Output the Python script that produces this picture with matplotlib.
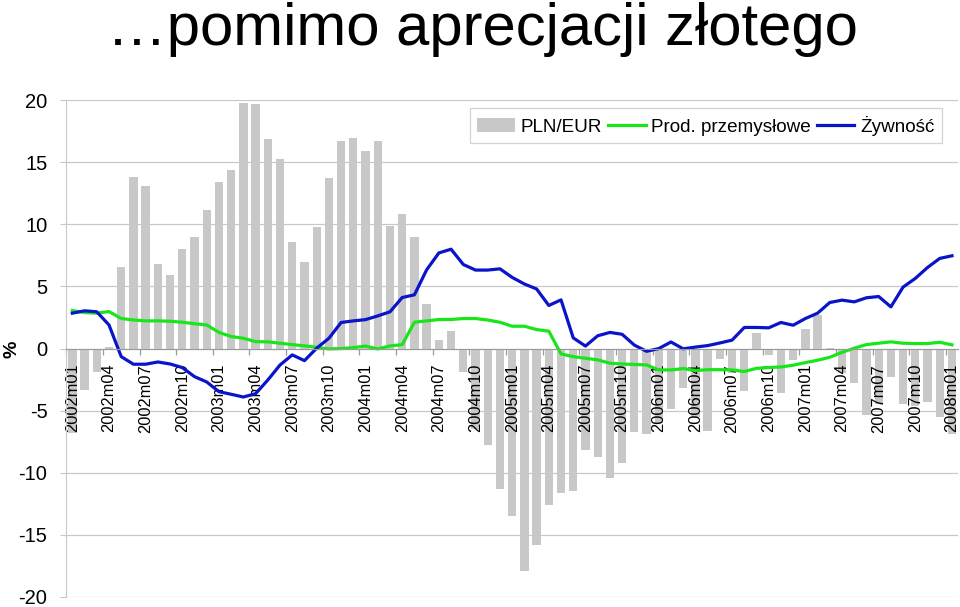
import numpy as np
import matplotlib
matplotlib.use("Agg")
import matplotlib.pyplot as plt
from matplotlib.ticker import FixedLocator

plt.rcParams['font.family'] = ['Liberation Sans', 'DejaVu Sans']
plt.rcParams['axes.unicode_minus'] = False

# monthly categories 2002m01 .. 2008m01
months = [f"{2002 + k // 12}m{k % 12 + 1:02d}" for k in range(73)]

# PLN/EUR, y/y %
pln_eur = [-6.8, -3.3, -1.9, 0.15, 6.6, 13.8, 13.1, 6.8, 5.9, 8.0, 8.95, 11.15,
           13.4, 14.4, 19.8, 19.7, 16.85, 15.3, 8.6, 7.0, 9.8, 13.7, 16.75, 16.95,
           15.9, 16.75, 9.9, 10.8, 8.95, 3.55, 0.7, 1.45, -1.9, -6.5, -7.8, -11.3,
           -13.5, -17.9, -15.8, -12.6, -11.6, -11.5, -8.2, -8.7, -10.4, -9.2, -6.75, -6.85,
           -6.0, -4.87, -3.17, -5.5, -6.6, -0.83, -2.0, -3.4, 1.25, -0.5, -3.6, -0.9,
           1.58, 2.72, 0.06, -2.0, -2.8, -5.35, -4.5, -2.3, -4.45, -4.6, -4.3, -5.5,
           -6.9]

# industrial goods prices
prod_przem = [3.06, 2.9, 2.85, 2.98, 2.42, 2.3, 2.23, 2.23, 2.2, 2.12, 2.0, 1.9,
              1.3, 0.97, 0.83, 0.56, 0.54, 0.43, 0.32, 0.22, 0.1, -0.03, 0.0, 0.08,
              0.2, -0.03, 0.21, 0.32, 2.12, 2.23, 2.34, 2.34, 2.42, 2.42, 2.3, 2.12,
              1.8, 1.8, 1.53, 1.4, -0.43, -0.65, -0.78, -0.91, -1.18, -1.24, -1.28, -1.32,
              -1.72, -1.72, -1.61, -1.77, -1.7, -1.7, -1.72, -1.85, -1.59, -1.53, -1.48, -1.34,
              -1.13, -0.94, -0.7, -0.3, 0.03, 0.32, 0.43, 0.54, 0.43, 0.4, 0.4, 0.51,
              0.3]

# food prices
zywnosc = [2.85, 3.04, 2.96, 1.9, -0.65, -1.26, -1.26, -1.08, -1.24, -1.53, -2.26, -2.69,
           -3.47, -3.68, -3.9, -3.63, -2.53, -1.32, -0.51, -0.97, 0.03, 0.83, 2.1, 2.23,
           2.33, 2.63, 2.96, 4.11, 4.33, 6.34, 7.7, 8.0, 6.77, 6.32, 6.32, 6.42,
           5.73, 5.2, 4.8, 3.47, 3.92, 0.86, 0.2, 1.03, 1.3, 1.15, 0.28, -0.22,
           0.0, 0.53, -0.02, 0.12, 0.24, 0.45, 0.68, 1.7, 1.7, 1.67, 2.1, 1.88,
           2.42, 2.85, 3.71, 3.9, 3.76, 4.09, 4.19, 3.36, 4.95, 5.65, 6.53, 7.26,
           7.47]

x = np.arange(len(months))
grid_c = '#c8c8c8'

fig = plt.figure(figsize=(9.6, 6.07), dpi=100)
ax = fig.add_axes([0.069, 0.0165, 0.929, 0.8185])

# gridlines behind the bars, x labels above bars
for yv in range(-20, 21, 5):
    ax.axhline(yv, color=grid_c, lw=0.9, zorder=0.5)

bars = ax.bar(x, pln_eur, width=0.68, color='#c8c8c8', zorder=1, label='PLN/EUR')
l1, = ax.plot(x, prod_przem, color='#19e619', lw=2.3, zorder=2, label='Prod. przemysłowe')
l2, = ax.plot(x, zywnosc, color='#0a14c8', lw=2.3, zorder=2, label='Żywność')

ax.set_xlim(-0.5, len(months) - 0.5)
ax.set_ylim(-20, 20)
ax.set_yticks(range(-20, 21, 5))
ax.tick_params(axis='y', labelsize=14.5, length=4.5, color=grid_c, pad=9)

ax.xaxis.set_major_locator(FixedLocator(x[::3]))
ax.set_xticklabels(months[::3])
ax.xaxis.set_minor_locator(FixedLocator(x[::3] - 0.5))
ax.tick_params(axis='x', which='major', length=0, pad=11, labelsize=11.8,
               labelrotation=90)
ax.tick_params(axis='x', which='minor', length=4, color='#9a9a9a', width=0.9)

ax.spines['bottom'].set_position(('data', 0))
ax.spines['bottom'].set_color('#9a9a9a')
ax.spines['left'].set_color(grid_c)
ax.spines['top'].set_visible(False)
ax.spines['right'].set_visible(False)

leg = ax.legend(handles=[bars, l1, l2], loc='upper right',
                bbox_to_anchor=(0.982, 0.984), ncol=3,
                fontsize=13.6, frameon=True, fancybox=False, borderaxespad=0,
                handlelength=2.0, handletextpad=0.3, columnspacing=0.3,
                borderpad=0.4)
leg.get_frame().set_edgecolor(grid_c)
leg.get_frame().set_linewidth(0.9)

fig.text(0.503, 0.952, '\u2026pomimo aprecjacji złotego', ha='center', va='center',
         fontsize=43)
fig.text(0.012, 1 - 349 / 607, '%', rotation=90, ha='center', va='center',
         fontsize=14, fontweight='bold')

fig.savefig('out.png', dpi=100)
